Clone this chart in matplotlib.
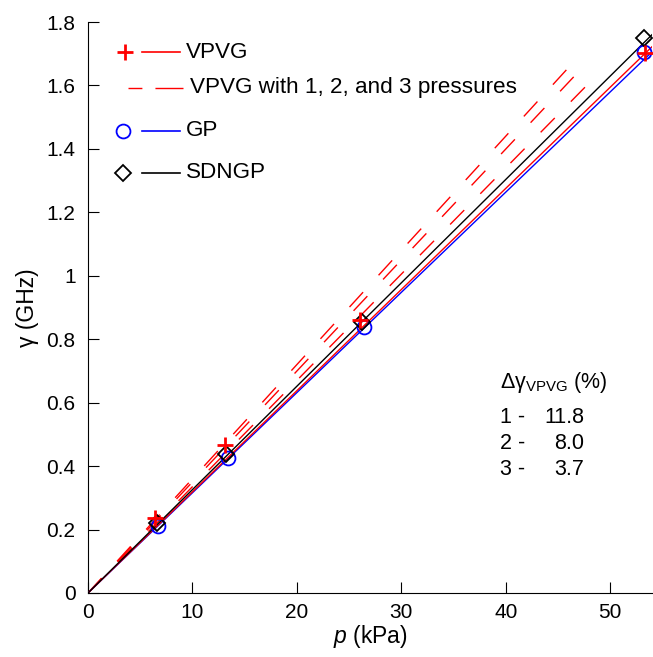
import matplotlib
matplotlib.use("Agg")
import matplotlib.pyplot as plt
from matplotlib.ticker import FixedLocator

plt.rcParams['font.family'] = ['Liberation Sans', 'DejaVu Sans']
plt.rcParams['mathtext.fontset'] = 'custom'
plt.rcParams['mathtext.rm'] = 'Liberation Sans'
plt.rcParams['mathtext.it'] = 'Liberation Sans:italic'

# Measured points (pressure in kPa, linewidth gamma in GHz)
p_vpvg = [6.4, 13.1, 26.05, 53.35]
g_vpvg = [0.235, 0.467, 0.860, 1.701]
p_gp = [6.7, 13.4, 26.4, 53.2]
g_gp = [0.212, 0.425, 0.840, 1.707]
p_sdngp = [6.6, 13.2, 26.2, 53.2]
g_sdngp = [0.220, 0.437, 0.853, 1.749]

# Model lines (from origin to right edge)
line_p = [0.0, 54.0]
line_vpvg = [0.0, 1.722]
line_gp = [0.0, 1.706]
line_sdngp = [0.0, 1.760]

# VPVG fitted with 1, 2 and 3 pressures
dash_p = [[0.0, 45.8], [0.0, 46.5], [0.0, 47.6]]
dash_g = [[0.0, 1.649], [0.0, 1.627], [0.0, 1.595]]

# Deviation table
dev_labels = ['1 -', '2 -', '3 -']
dev_values = ['11.8', '8.0', '3.7']

x_ticks = [0, 10, 20, 30, 40, 50]
y_ticks = [0, 0.2, 0.4, 0.6, 0.8, 1.0, 1.2, 1.4, 1.6, 1.8]
y_ticklabels = ['0', '0.2', '0.4', '0.6', '0.8', '1', '1.2', '1.4', '1.6', '1.8']

W, H = 653, 657
fig = plt.figure(figsize=(W / 100, H / 100), dpi=100)
ax = fig.add_axes([88 / W, (H - 593) / H, 564 / W, 571 / H])

red = '#ff0000'
blue = '#0000ff'

# dashed fits
for pp, gg in zip(dash_p, dash_g):
    ax.plot(pp, gg, color=red, lw=1.0, dashes=(14.5, 16.5),
            dash_capstyle='butt', zorder=2)

# solid model lines
ax.plot(line_p, line_gp, color=blue, lw=1.0, zorder=3)
ax.plot(line_p, line_vpvg, color=red, lw=1.0, zorder=3)
ax.plot(line_p, line_sdngp, color='black', lw=1.0, zorder=3)

# markers
ax.plot(p_gp, g_gp, 'o', ms=10, mfc='none', mec=blue, mew=1.3, zorder=4, clip_on=False)
ax.plot(p_sdngp, g_sdngp, 'D', ms=8, mfc='none', mec='black', mew=1.3, zorder=5, clip_on=False)
ax.plot(p_vpvg, g_vpvg, '+', ms=12, mec=red, mew=2.0, zorder=6, clip_on=False)

ax.set_xlim(0, 54)
ax.set_ylim(0, 1.8)
ax.xaxis.set_major_locator(FixedLocator(x_ticks))
ax.set_yticks(y_ticks)
ax.set_yticklabels(y_ticklabels)
ax.tick_params(direction='in', length=8, width=0.8, labelsize=15, pad=7, colors='black')
ax.tick_params(axis='y', pad=9)
for side in ('top', 'right'):
    ax.spines[side].set_visible(False)
for side in ('left', 'bottom'):
    ax.spines[side].set_linewidth(0.8)

ax.set_xlabel(r'$\it{p}$ (kPa)', fontsize=16.5, labelpad=1)
ax.set_ylabel('γ (GHz)', fontsize=16.5, labelpad=5)

# legend drawn by hand
T = ax.transAxes
def ax_x(px):
    return (px - 88) / 564
def ax_y(py):
    return (593 - py) / 571

fs_leg = 16.2
rows = [52, 88, 131, 173]
ax.plot([ax_x(125)], [ax_y(rows[0])], '+', ms=12, mec=red, mew=2.0, transform=T, clip_on=False)
ax.plot([ax_x(142), ax_x(180)], [ax_y(rows[0])] * 2, color=red, lw=1.2, transform=T)
ax.text(ax_x(186), ax_y(rows[0]), 'VPVG', fontsize=fs_leg, va='center', ha='left', transform=T)

ax.plot([ax_x(128), ax_x(183)], [ax_y(rows[1])] * 2, color=red, lw=1.0,
        dashes=(10.0, 9.4, 20.2, 5.0), transform=T)
ax.text(ax_x(190), ax_y(rows[1]), 'VPVG with 1, 2, and 3 pressures', fontsize=fs_leg,
        va='center', ha='left', transform=T)

ax.plot([ax_x(123)], [ax_y(rows[2])], 'o', ms=10, mfc='none', mec=blue, mew=1.3, transform=T)
ax.plot([ax_x(142), ax_x(180)], [ax_y(rows[2])] * 2, color=blue, lw=1.2, transform=T)
ax.text(ax_x(186), ax_y(rows[2]), 'GP', fontsize=fs_leg, va='center', ha='left', transform=T)

ax.plot([ax_x(123)], [ax_y(rows[3])], 'D', ms=8, mfc='none', mec='black', mew=1.3, transform=T)
ax.plot([ax_x(142), ax_x(180)], [ax_y(rows[3])] * 2, color='black', lw=1.2, transform=T)
ax.text(ax_x(186), ax_y(rows[3]), 'SDNGP', fontsize=fs_leg, va='center', ha='left', transform=T)

# deviation table
fs_tab = 15.5
ax.text(39.4, 0.665, r'Δγ$_{\mathrm{VPVG}}$ (%)', fontsize=fs_tab, va='center', ha='left')
for i, (lab, val) in enumerate(zip(dev_labels, dev_values)):
    y = 0.552 - i * 0.082
    ax.text(39.4, y, lab, fontsize=fs_tab, va='center', ha='left')
    ax.text(47.5, y, val, fontsize=fs_tab, va='center', ha='right')

fig.savefig('out.png', dpi=100)
